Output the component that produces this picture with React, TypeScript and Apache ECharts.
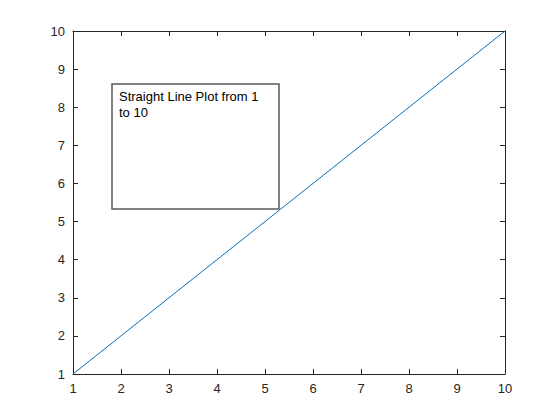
import React, { useEffect, useRef } from "react";
import * as echarts from "echarts";

const xValues = [1, 2, 3, 4, 5, 6, 7, 8, 9, 10];
const yValues = [1, 2, 3, 4, 5, 6, 7, 8, 9, 10];
const annotationLines = ["Straight Line Plot from 1", "to 10"];

export default function App() {
  const ref = useRef<HTMLDivElement>(null);
  useEffect(() => {
    const chart = echarts.init(ref.current!, null, { renderer: "svg" });
    const axisCommon = {
      type: "value" as const,
      min: 1,
      max: 10,
      interval: 1,
      splitLine: { show: false },
      axisLine: { show: true, lineStyle: { color: "#262626", width: 1 } },
      axisTick: { show: true, inside: true, length: 5, lineStyle: { color: "#262626" } },
    };
    const labelStyle = { color: "#262626", fontSize: 13, fontFamily: "Liberation Sans, Arial, sans-serif" };
    chart.setOption({
      animation: false,
      backgroundColor: "#ffffff",
      grid: { left: 73, right: 55, top: 31, bottom: 46, containLabel: false },
      xAxis: [
        { ...axisCommon, position: "bottom", axisLabel: { ...labelStyle, margin: 8 } },
        { ...axisCommon, position: "top", axisLabel: { show: false } },
      ],
      yAxis: [
        { ...axisCommon, position: "left", axisLabel: { ...labelStyle, margin: 8 } },
        { ...axisCommon, position: "right", axisLabel: { show: false } },
      ],
      series: [
        {
          type: "line",
          data: xValues.map((x, i) => [x, yValues[i]]),
          showSymbol: false,
          lineStyle: { color: "#0072BD", width: 1 },
          xAxisIndex: 0,
          yAxisIndex: 0,
        },
      ],
      graphic: [
        {
          type: "rect",
          shape: { x: 112, y: 84, width: 167, height: 125 },
          style: { fill: "#ffffff", fillOpacity: 0, stroke: "#5a5a5a", lineWidth: 1.5 },
          z: 100,
        },
        {
          type: "text",
          x: 119,
          y: 88,
          style: {
            text: annotationLines.join("\n"),
            fill: "#000000",
            fontSize: 13,
            lineHeight: 16,
            fontFamily: "Liberation Sans, Arial, sans-serif",
          },
          z: 101,
        },
      ],
    });
    return () => chart.dispose();
  }, []);
  return <div ref={ref} style={{ width: 560, height: 420, position: "absolute", left: 0, top: 0 }} />;
}
